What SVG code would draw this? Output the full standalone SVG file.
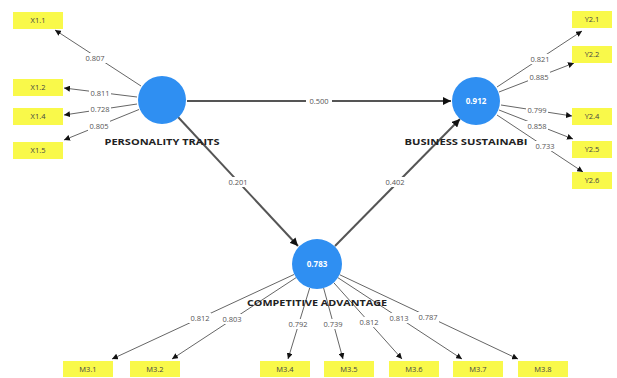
<svg xmlns="http://www.w3.org/2000/svg" width="617" height="378" viewBox="0 0 617 378">
<defs>
<marker id="ah" viewBox="0 0 10 10" refX="10" refY="5" markerWidth="6" markerHeight="6" orient="auto" markerUnits="userSpaceOnUse"><path d="M0,0 L10,5 L0,10 z" fill="#111"/></marker>
<marker id="ahb" viewBox="0 0 10 10" refX="10" refY="5" markerWidth="8" markerHeight="8" orient="auto" markerUnits="userSpaceOnUse"><path d="M0,0 L10,5 L0,10 z" fill="#111"/></marker>
</defs>
<style>
.ind{fill:#f9f94a}
.it{font-family:"Open Sans","Liberation Sans",sans-serif;font-size:7.5px;fill:#444;text-anchor:middle}
.lv{fill:#2f8ff2}
.lvt{font-family:"Open Sans","Liberation Sans",sans-serif;font-size:8px;font-weight:bold;fill:#fff;text-anchor:middle}
.nl{font-family:"Open Sans","Liberation Sans",sans-serif;font-size:9px;font-weight:bold;fill:#222;text-anchor:middle}
.ld{stroke:#666;stroke-width:1;fill:none;marker-end:url(#ah)}
.pl{stroke:#555;stroke-width:2;fill:none;marker-end:url(#ahb)}
.lb{font-family:"Open Sans","Liberation Sans",sans-serif;font-size:7.5px;fill:#555;text-anchor:middle}
.bg{fill:#fff}
</style>
<rect width="617" height="378" fill="#fff"/>
<g id="connectors">
<line class="pl" x1="187" y1="101" x2="451" y2="101"/>
<line class="pl" x1="178" y1="117" x2="298" y2="246"/>
<line class="pl" x1="335" y1="246" x2="460" y2="119"/>
<line class="ld" x1="141" y1="86" x2="55" y2="30"/>
<line class="ld" x1="137" y1="97" x2="64" y2="88"/>
<line class="ld" x1="137" y1="104" x2="64" y2="115"/>
<line class="ld" x1="139" y1="109.5" x2="64" y2="140"/>
<line class="ld" x1="497" y1="87" x2="582" y2="31"/>
<line class="ld" x1="499" y1="92" x2="574" y2="63"/>
<line class="ld" x1="501" y1="105" x2="572" y2="116"/>
<line class="ld" x1="499" y1="110" x2="573" y2="139"/>
<line class="ld" x1="497" y1="115" x2="583" y2="172"/>
<line class="ld" x1="294" y1="274.5" x2="112" y2="359"/>
<line class="ld" x1="296" y1="277.7" x2="172" y2="359"/>
<line class="ld" x1="309.7" y1="288" x2="288" y2="359"/>
<line class="ld" x1="323.6" y1="288" x2="343" y2="359"/>
<line class="ld" x1="333.7" y1="282.6" x2="402" y2="359"/>
<line class="ld" x1="337.9" y1="277.7" x2="462" y2="359"/>
<line class="ld" x1="339.6" y1="274.7" x2="518" y2="359"/>
<g id="labels">
<rect class="bg" x="306" y="96" width="26" height="10"/><text class="lb" x="319" y="104">0.500</text>
<rect class="bg" x="226" y="177" width="24" height="10"/><text class="lb" x="238" y="185">0.201</text>
<rect class="bg" x="383" y="177" width="24" height="10"/><text class="lb" x="395" y="185">0.402</text>
<rect class="bg" x="84" y="53" width="22" height="10"/><text class="lb" x="95" y="61">0.807</text>
<rect class="bg" x="89" y="88" width="22" height="10"/><text class="lb" x="100" y="96">0.811</text>
<rect class="bg" x="89" y="104" width="22" height="10"/><text class="lb" x="100" y="112">0.728</text>
<rect class="bg" x="88" y="121" width="22" height="10"/><text class="lb" x="99" y="129">0.805</text>
<rect class="bg" x="529" y="54" width="22" height="10"/><text class="lb" x="540" y="62">0.821</text>
<rect class="bg" x="528" y="72" width="22" height="10"/><text class="lb" x="539" y="80">0.885</text>
<rect class="bg" x="526" y="105" width="22" height="10"/><text class="lb" x="537" y="113">0.799</text>
<rect class="bg" x="526" y="121" width="22" height="10"/><text class="lb" x="537" y="129">0.858</text>
<rect class="bg" x="189" y="313" width="22" height="10"/><text class="lb" x="200" y="321">0.812</text>
<rect class="bg" x="221" y="314" width="22" height="10"/><text class="lb" x="232" y="322">0.803</text>
<rect class="bg" x="287" y="319" width="22" height="10"/><text class="lb" x="298" y="327">0.792</text>
<rect class="bg" x="322" y="319" width="22" height="10"/><text class="lb" x="333" y="327">0.739</text>
<rect class="bg" x="358" y="317" width="22" height="10"/><text class="lb" x="369" y="325">0.812</text>
<rect class="bg" x="388" y="313" width="22" height="10"/><text class="lb" x="399" y="321">0.813</text>
<rect class="bg" x="417" y="312" width="22" height="10"/><text class="lb" x="428" y="320">0.787</text>
</g>
</g>
<g id="X1.1"><rect class="ind" x="13" y="12" width="50" height="17"/><text class="it" x="38" y="23">X1.1</text></g>
<g id="X1.2"><rect class="ind" x="13" y="79" width="50" height="17"/><text class="it" x="38" y="90">X1.2</text></g>
<g id="X1.4"><rect class="ind" x="13" y="108" width="50" height="17"/><text class="it" x="38" y="119">X1.4</text></g>
<g id="X1.5"><rect class="ind" x="13" y="142" width="50" height="17"/><text class="it" x="38" y="153">X1.5</text></g>
<g id="Y2.1"><rect class="ind" x="572" y="11" width="40" height="17"/><text class="it" x="592" y="22">Y2.1</text></g>
<g id="Y2.2"><rect class="ind" x="572" y="46" width="40" height="17"/><text class="it" x="592" y="57">Y2.2</text></g>
<g id="Y2.4"><rect class="ind" x="572" y="108" width="40" height="17"/><text class="it" x="592" y="119">Y2.4</text></g>
<g id="Y2.5"><rect class="ind" x="572" y="141" width="40" height="17"/><text class="it" x="592" y="152">Y2.5</text></g>
<g id="Y2.6"><rect class="ind" x="572" y="172" width="40" height="17"/><text class="it" x="592" y="183">Y2.6</text></g>
<g id="M3.1"><rect class="ind" x="63" y="361" width="50" height="16"/><text class="it" x="88" y="372">M3.1</text></g>
<g id="M3.2"><rect class="ind" x="130" y="361" width="50" height="16"/><text class="it" x="155" y="372">M3.2</text></g>
<g id="M3.4"><rect class="ind" x="260" y="361" width="50" height="16"/><text class="it" x="285" y="372">M3.4</text></g>
<g id="M3.5"><rect class="ind" x="324" y="361" width="50" height="16"/><text class="it" x="349" y="372">M3.5</text></g>
<g id="M3.6"><rect class="ind" x="389" y="361" width="50" height="16"/><text class="it" x="414" y="372">M3.6</text></g>
<g id="M3.7"><rect class="ind" x="453" y="361" width="50" height="16"/><text class="it" x="478" y="372">M3.7</text></g>
<g id="M3.8"><rect class="ind" x="518" y="361" width="50" height="16"/><text class="it" x="543" y="372">M3.8</text></g>
<g id="personality-traits"><circle class="lv" cx="162" cy="100" r="24"/><text class="nl" x="162" y="145" textLength="115" lengthAdjust="spacingAndGlyphs">PERSONALITY TRAITS</text></g>
<g id="business-sustainability"><circle class="lv" cx="476" cy="101" r="24"/><text class="lvt" x="476" y="104">0.912</text><text class="nl" x="466" y="145" textLength="123" lengthAdjust="spacingAndGlyphs">BUSINESS SUSTAINABI</text><rect class="bg" x="534" y="141" width="22" height="10"/><text class="lb" x="545" y="149">0.733</text></g>
<g id="competitive-advantage"><circle class="lv" cx="317" cy="264" r="25"/><text class="lvt" x="317" y="267">0.783</text><text class="nl" x="317" y="306" textLength="140" lengthAdjust="spacingAndGlyphs">COMPETITIVE ADVANTAGE</text></g>
</svg>
